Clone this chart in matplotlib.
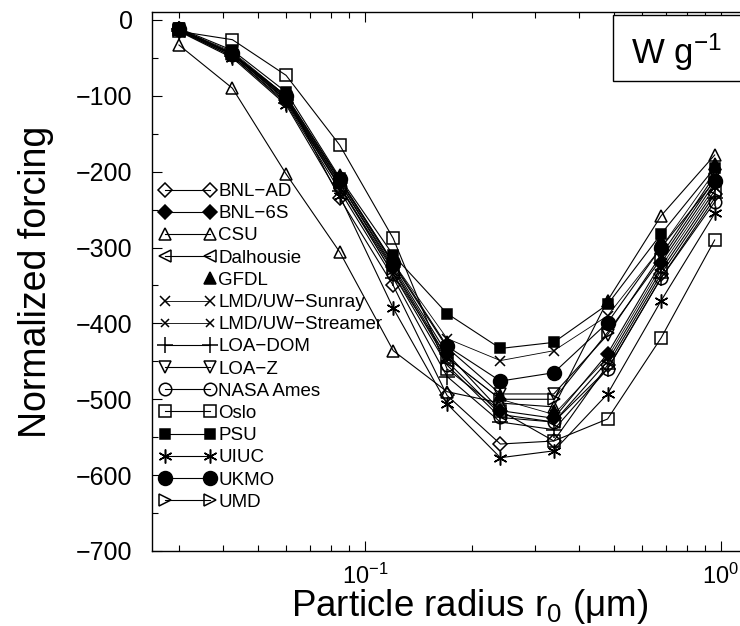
import matplotlib
matplotlib.use('Agg')
import matplotlib.pyplot as plt
from matplotlib.ticker import MultipleLocator, LogLocator, NullFormatter
from matplotlib.legend_handler import HandlerLine2D
from matplotlib.patches import Rectangle

plt.rcParams['font.family'] = ['Liberation Sans', 'DejaVu Sans']
plt.rcParams['mathtext.fontset'] = 'custom'
plt.rcParams['mathtext.rm'] = 'Liberation Sans'
plt.rcParams['mathtext.it'] = 'Liberation Sans:italic'
plt.rcParams['mathtext.bf'] = 'Liberation Sans:bold'

# particle radius r0 (um)
radius = [0.03, 0.0424, 0.06, 0.0849, 0.12, 0.17, 0.24, 0.339, 0.48, 0.679, 0.96]

# normalized forcing (W g-1) per model
bnl_ad = [-12, -45, -100, -235, -350, -495, -559, -555, -455, -335, -230]
bnl_6s = [-12, -45, -105, -215, -325, -440, -515, -525, -440, -320, -215]
csu = [-33, -90, -203, -306, -436, -490, -505, -510, -370, -258, -178]
dalhousie = [-14, -48, -108, -220, -330, -450, -520, -530, -450, -330, -225]
gfdl = [-10, -42, -98, -205, -315, -425, -495, -515, -370, -290, -190]
lmd_sunray = [-12, -42, -100, -210, -320, -420, -449, -436, -390, -300, -200]
lmd_streamer = [-13, -46, -105, -218, -335, -445, -500, -520, -445, -325, -220]
loa_dom = [-14, -48, -110, -225, -340, -470, -530, -540, -460, -340, -235]
loa_z = [-12, -44, -102, -212, -322, -432, -493, -493, -415, -310, -205]
nasa_ames = [-13, -46, -106, -220, -335, -455, -524, -530, -460, -340, -240]
oslo = [-15, -26, -73, -165, -288, -460, -515, -555, -526, -419, -290]
psu = [-11, -40, -95, -208, -310, -387, -433, -425, -375, -282, -195]
uiuc = [-15, -50, -112, -232, -380, -506, -577, -568, -493, -370, -255]
ukmo = [-12, -44, -100, -210, -320, -430, -476, -465, -399, -300, -212]
umd = [-13, -45, -103, -215, -328, -445, -500, -500, -412, -315, -210]

# label, values, marker, filled, marker size, line width
series = [
    ('BNL\u2212AD', bnl_ad, 'D', False, 7, 0.8),
    ('BNL\u22126S', bnl_6s, 'D', True, 7, 0.8),
    ('CSU', csu, '^', False, 9, 0.8),
    ('Dalhousie', dalhousie, '<', False, 9, 0.8),
    ('GFDL', gfdl, '^', True, 9, 0),
    ('LMD/UW\u2212Sunray', lmd_sunray, 'x', True, 7, 0.6),
    ('LMD/UW\u2212Streamer', lmd_streamer, 'x', True, 6, 0.6),
    ('LOA\u2212DOM', loa_dom, '+', True, 11, 0.8),
    ('LOA\u2212Z', loa_z, 'v', False, 9, 0.8),
    ('NASA Ames', nasa_ames, 'o', False, 9, 0.8),
    ('Oslo', oslo, 's', False, 8, 0.8),
    ('PSU', psu, 's', True, 7, 0.8),
    ('UIUC', uiuc, (6, 2, 0), True, 10, 0.8),
    ('UKMO', ukmo, 'o', True, 10, 0.8),
    ('UMD', umd, '>', False, 9, 0.8),
]


class RightMarkerOnly(HandlerLine2D):
    # legend entry with a single marker at the right end and no line
    def create_artists(self, legend, orig_handle, xdescent, ydescent,
                       width, height, fontsize, trans):
        arts = super().create_artists(legend, orig_handle, xdescent, ydescent,
                                      width, height, fontsize, trans)
        for a in arts:
            xd, yd = a.get_xdata(), a.get_ydata()
            if a.get_marker() not in (None, 'None', ''):
                a.set_data([xd[-1]], [yd[-1]])
            else:
                a.set_visible(False)
        return arts


fig = plt.figure(figsize=(7.4, 6.26), dpi=100)
ax = fig.add_axes([152 / 740, 1 - 551 / 626, 593 / 740, 539 / 626])

handles = []
handler_map = {}
for label, vals, mk, filled, ms, lw in series:
    ls = '-' if lw > 0 else 'none'
    line, = ax.plot(radius, vals, color='black', linestyle=ls, linewidth=lw,
                    marker=mk, markersize=ms, markeredgewidth=1.1,
                    markerfacecolor='black' if filled else 'none',
                    markeredgecolor='black', label=label)
    handles.append(line)
    if lw == 0:
        handler_map[line] = RightMarkerOnly()

ax.set_xscale('log')
ax.set_xlim(0.0252, 1.168)
ax.set_ylim(-700, 10.5)

ax.yaxis.set_major_locator(MultipleLocator(100))
ax.yaxis.set_minor_locator(MultipleLocator(50))
ax.xaxis.set_major_locator(LogLocator(base=10))
ax.xaxis.set_minor_locator(LogLocator(base=10, subs=range(2, 10)))
ax.xaxis.set_minor_formatter(NullFormatter())

ax.tick_params(which='both', direction='in', top=True, right=False, width=0.8)
ax.tick_params(which='major', length=7)
ax.tick_params(which='minor', length=4)
ax.tick_params(axis='y', labelsize=18, pad=14)
ax.tick_params(axis='x', labelsize=17, pad=9)
for sp in ax.spines.values():
    sp.set_linewidth(1.0)

ax.set_xlabel('Particle radius r$_0$ (\u03bcm)', fontsize=26.5)
ax.xaxis.set_label_coords((470 - 152) / 593, -0.067)
ax.set_ylabel('Normalized forcing', fontsize=27, labelpad=16)

# units box in the upper right corner
ax.add_patch(Rectangle((0.777, 0.872), 0.25, 0.1224, transform=ax.transAxes,
                       facecolor='white', edgecolor='black', linewidth=1.0,
                       clip_on=False, zorder=5))
ax.text(0.885, 0.926, 'W g$^{-1}$', transform=ax.transAxes, fontsize=25,
        ha='center', va='center', zorder=6)

ax.legend(handles=handles, handler_map=handler_map, loc='upper left',
          bbox_to_anchor=((159.4 - 152) / 593, (551 - 183) / 539),
          frameon=False, fontsize=13.5, numpoints=2, handlelength=3.0,
          handletextpad=0.13, labelspacing=0.27, borderpad=0, borderaxespad=0)

fig.savefig('out.png', dpi=100)
